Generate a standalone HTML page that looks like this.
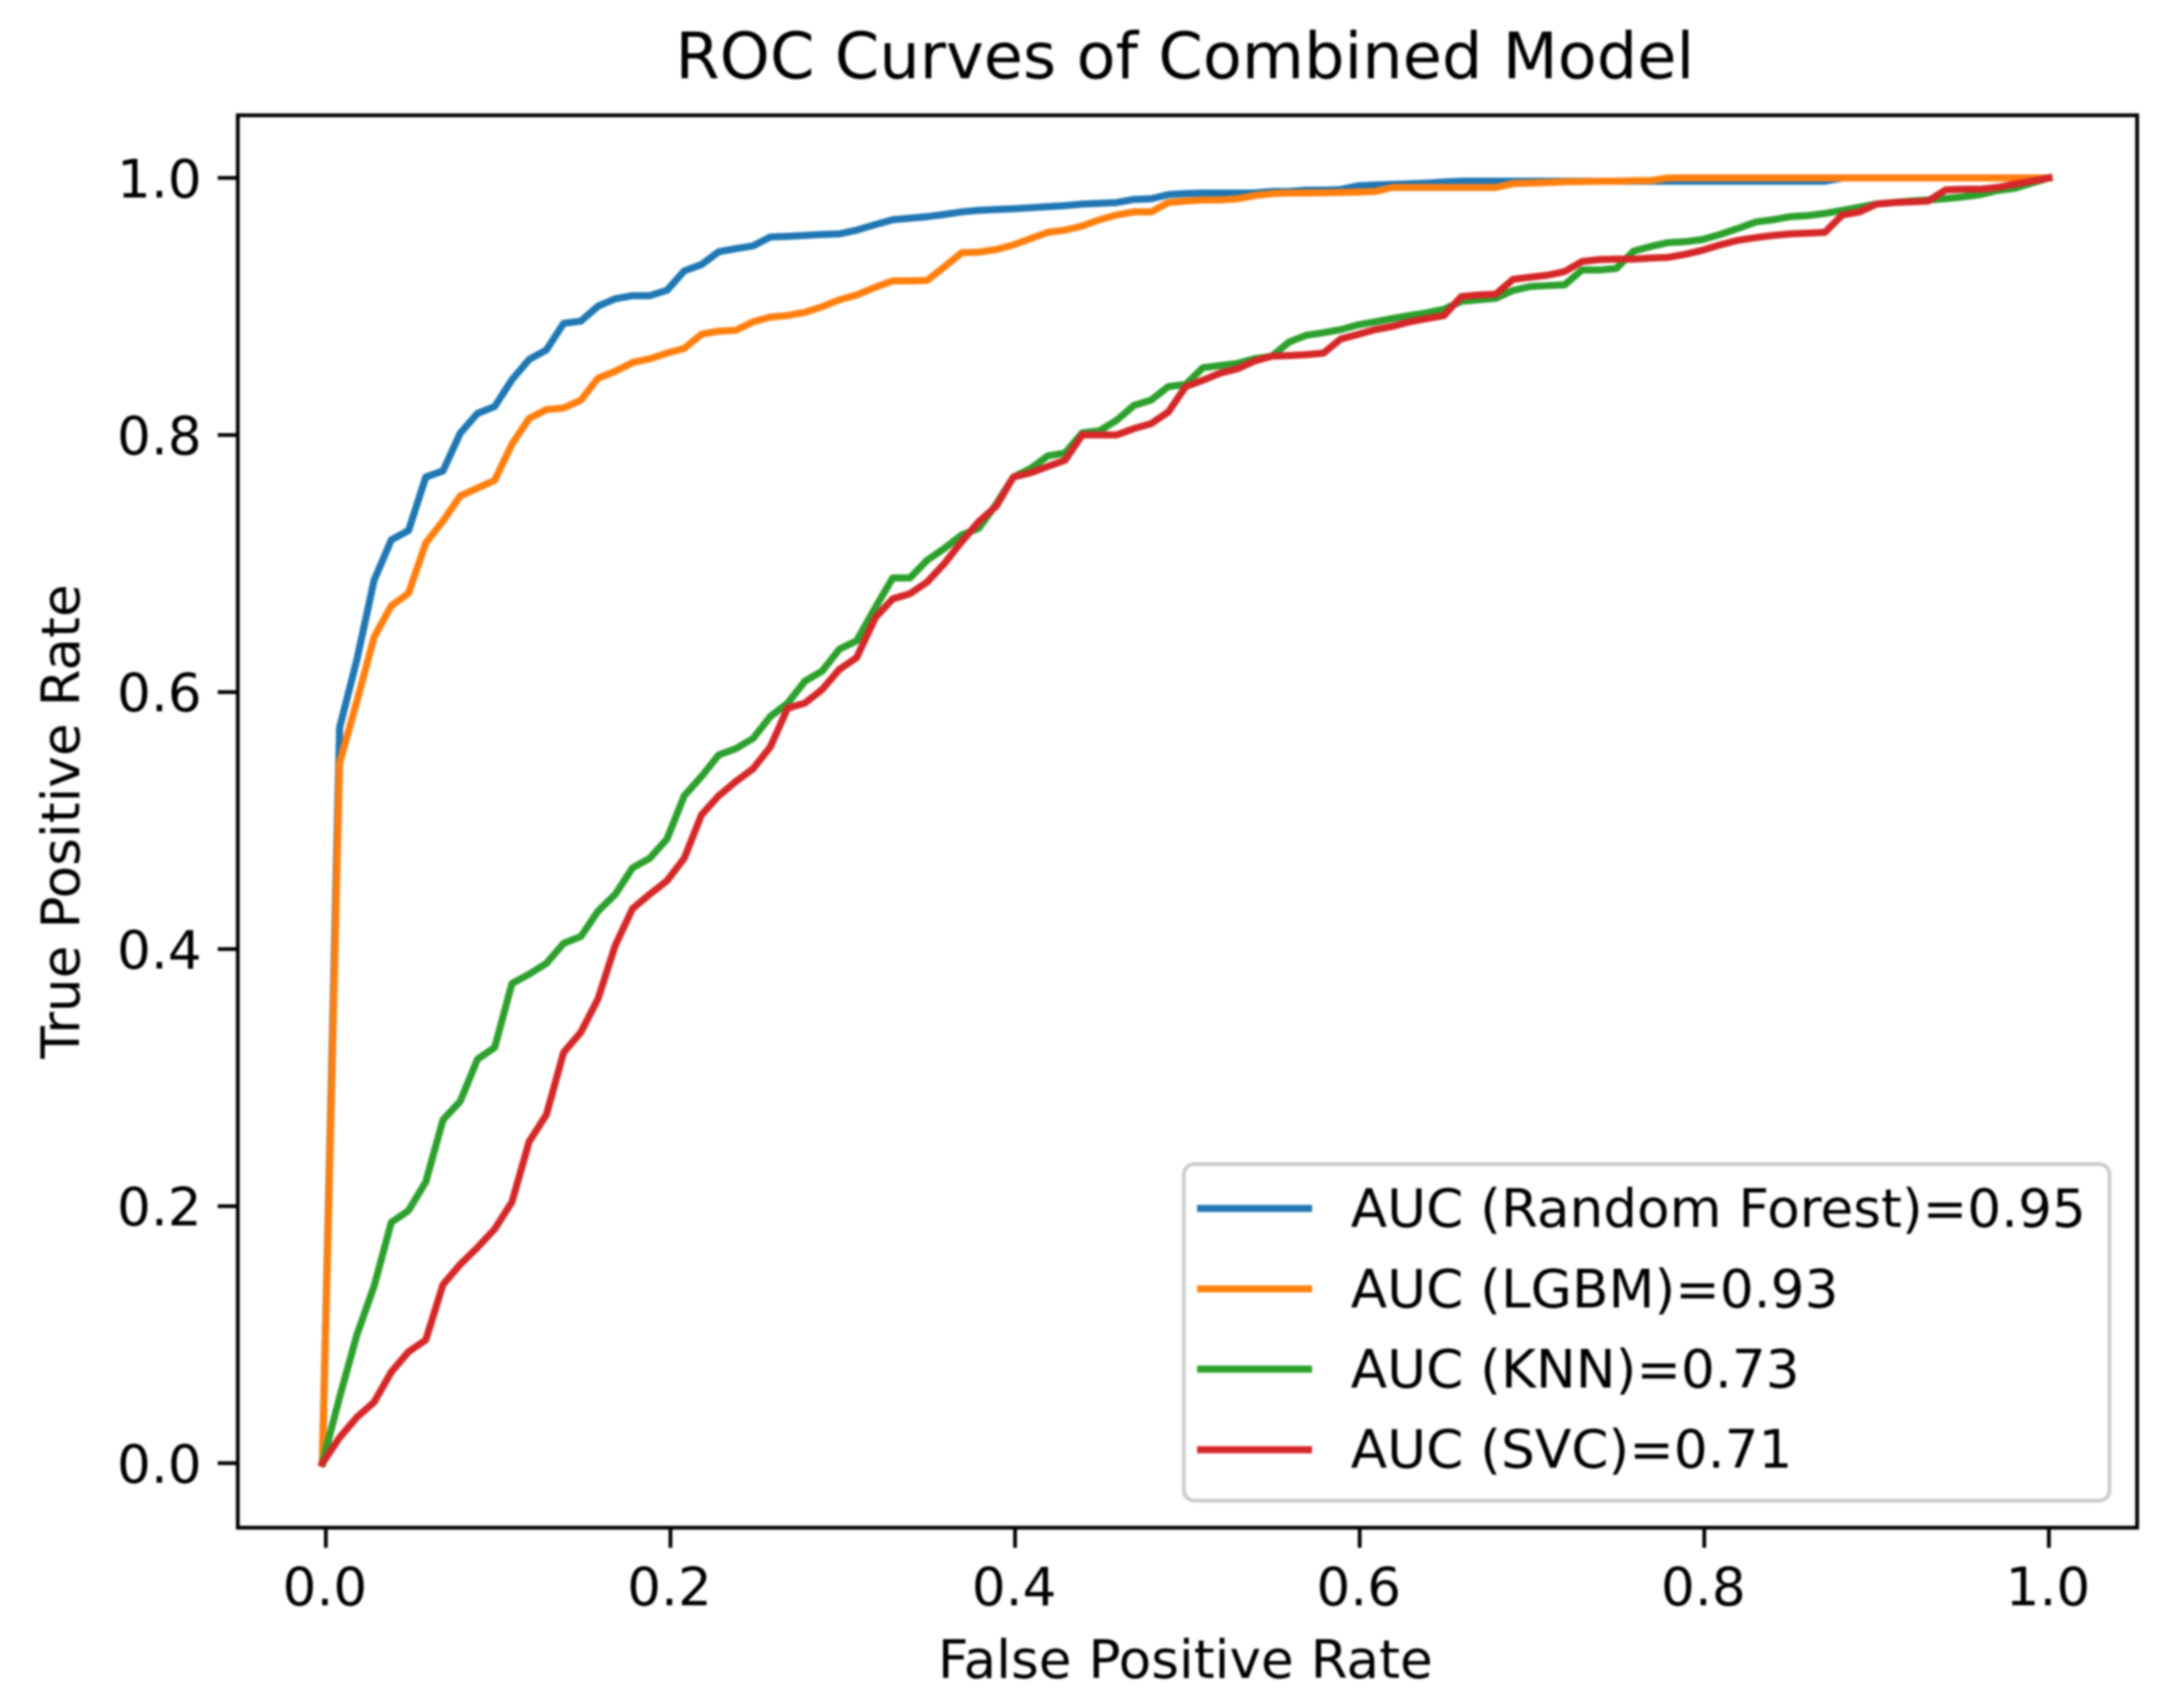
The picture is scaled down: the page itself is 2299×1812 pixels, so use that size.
<!DOCTYPE html>
<html lang="en">
<head>
<meta charset="utf-8">
<title>ROC Curves of Combined Model</title>
<style>
  html, body { margin: 0; padding: 0; background: #fff; }
  #chart { display: block; filter: blur(1px); }
  text { font-family: "DejaVu Sans", "Liberation Sans", sans-serif; fill: #000; }
</style>
</head>
<body>
<svg id="chart" xmlns="http://www.w3.org/2000/svg" width="2299" height="1812" viewBox="0 0 2299 1812">
  <rect x="0" y="0" width="2299" height="1812" fill="#fff"/>
  <text x="1257" y="83" font-size="67.7" text-anchor="middle">ROC Curves of Combined Model</text>
  <rect x="252.3" y="122.3" width="2015" height="1498.4" fill="#fff" stroke="#000" stroke-width="4"/>
  <g id="ticks"></g>
  <g id="curves"></g>
  <text x="1257.5" y="1780" font-size="56.5" text-anchor="middle">False Positive Rate</text>
  <text x="84" y="871.5" font-size="56.5" text-anchor="middle" transform="rotate(-90 84 871.5)">True Positive Rate</text>
  <g>
    <rect x="1256" y="1235" width="982" height="357" rx="11" ry="11" fill="#fff" fill-opacity="0.8" stroke="#ccc" stroke-width="4"/>
    <line x1="1270" x2="1392" y1="1282" y2="1282" stroke="#1f77b4" stroke-width="7.5"/>
    <text x="1433" y="1301.5" font-size="56.5">AUC (Random Forest)=0.95</text>
    <line x1="1270" x2="1392" y1="1367.4" y2="1367.4" stroke="#ff7f0e" stroke-width="7.5"/>
    <text x="1433" y="1387" font-size="56.5">AUC (LGBM)=0.93</text>
    <line x1="1270" x2="1392" y1="1452.5" y2="1452.5" stroke="#2ca02c" stroke-width="7.5"/>
    <text x="1433" y="1472" font-size="56.5">AUC (KNN)=0.73</text>
    <line x1="1270" x2="1392" y1="1538" y2="1538" stroke="#d62728" stroke-width="7.5"/>
    <text x="1433" y="1557" font-size="56.5">AUC (SVC)=0.71</text>
  </g>
</svg>
<script>
const xTickValues = [0.0, 0.2, 0.4, 0.6, 0.8, 1.0];
const yTickValues = [0.0, 0.2, 0.4, 0.6, 0.8, 1.0];
const fpr = [-0.002,0.008,0.018,0.028,0.038,0.048,0.058,0.068,0.078,0.088,
0.098,0.108,0.118,0.128,0.138,0.148,0.158,0.168,0.178,0.188,
0.198,0.208,0.218,0.228,0.238,0.248,0.258,0.268,0.278,0.288,
0.298,0.308,0.319,0.329,0.339,0.349,0.359,0.369,0.379,0.389,
0.399,0.409,0.419,0.429,0.439,0.449,0.459,0.469,0.479,0.489,
0.499,0.509,0.519,0.529,0.539,0.549,0.559,0.569,0.579,0.589,
0.599,0.609,0.619,0.629,0.639,0.649,0.659,0.669,0.679,0.689,
0.699,0.709,0.719,0.729,0.739,0.749,0.759,0.769,0.779,0.789,
0.799,0.809,0.820,0.830,0.840,0.850,0.860,0.870,0.880,0.890,
0.900,0.910,0.920,0.930,0.940,0.950,0.960,0.970,0.980,0.990,1.000];
const tprRandomForest = [0,.5725,.6251,.6870,.7184,.7257,.7673,.7721,.8014,.8168,
.8222,.8430,.8588,.8662,.8869,.8886,.9003,.9060,.9084,.9084,
.9126,.9277,.9326,.9426,.9450,.9472,.9541,.9546,.9553,.9560,
.9565,.9594,.9638,.9675,.9687,.9699,.9716,.9736,.9748,.9755,
.9760,.9768,.9777,.9785,.9797,.9802,.9809,.9833,.9838,.9870,
.9878,.9883,.9883,.9883,.9883,.9895,.9895,.9905,.9905,.9910,
.9939,.9945,.9950,.9955,.9960,.9968,.9975,.9975,.9975,.9975,
.9975,.9975,.9975,.9975,.9975,.9975,.9975,.9975,.9975,.9975,
.9975,.9975,.9975,.9975,.9975,.9975,.9975,.9975,1,1,
1,1,1,1,1,1,1,1,1,1,1];
const tprLgbm = [0,.5450,.5927,.6427,.6671,.6769,.7160,.7331,.7526,.7587,
.7648,.7929,.8129,.8198,.8210,.8271,.8442,.8496,.8564,.8593,
.8637,.8674,.8784,.8808,.8815,.8881,.8918,.8930,.8955,.8998,
.9052,.9089,.9150,.9199,.9199,.9203,.9309,.9418,.9423,.9443,
.9479,.9528,.9577,.9594,.9626,.9675,.9712,.9736,.9736,.9809,
.9821,.9829,.9829,.9838,.9863,.9878,.9883,.9883,.9885,.9888,
.9890,.9895,.9926,.9926,.9926,.9926,.9926,.9926,.9926,.9956,
.9960,.9965,.9970,.9972,.9975,.9975,.9978,.9980,1,1,
1,1,1,1,1,1,1,1,1,1,
1,1,1,1,1,1,1,1,1,1,1];
const tprKnn = [0,.0514,.0998,.1377,.1874,.1966,.2189,.2672,.2816,.3143,
.3235,.3732,.3805,.3889,.4045,.4098,.4296,.4427,.4632,.4707,
.4857,.5193,.5343,.5511,.5560,.5640,.5810,.5914,.6084,.6163,
.6333,.6398,.6660,.6888,.6888,.7026,.7118,.7222,.7275,.7461,
.7673,.7739,.7837,.7860,.8017,.8033,.8115,.8230,.8272,.8377,
.8393,.8524,.8540,.8557,.8593,.8613,.8723,.8776,.8796,.8820,
.8857,.8881,.8906,.8930,.8950,.8979,.9040,.9052,.9064,.9125,
.9155,.9162,.9169,.9284,.9284,.9296,.9431,.9467,.9497,.9504,
.9521,.9560,.9609,.9658,.9675,.9699,.9707,.9724,.9748,.9773,
.9797,.9809,.9821,.9829,.9839,.9853,.9870,.9902,.9919,.9961,1];
const tprSvc = [0,.0200,.0357,.0475,.0710,.0867,.0959,.1390,.1547,.1678,
.1822,.2032,.2502,.2712,.3196,.3353,.3614,.4030,.4315,.4427,
.4532,.4707,.5044,.5193,.5305,.5404,.5574,.5875,.5914,.6019,
.6176,.6267,.6581,.6725,.6765,.6856,.7000,.7170,.7327,.7445,
.7673,.7706,.7755,.7804,.8001,.8001,.8001,.8050,.8089,.8180,
.8377,.8426,.8481,.8515,.8576,.8613,.8618,.8625,.8637,.8747,
.8783,.8820,.8845,.8881,.8906,.8930,.9077,.9089,.9096,.9211,
.9228,.9243,.9272,.9350,.9365,.9369,.9369,.9377,.9382,.9406,
.9438,.9479,.9516,.9536,.9553,.9565,.9570,.9577,.9711,.9736,
.9797,.9809,.9814,.9821,.9907,.9912,.9912,.9926,.9951,.9975,1];

const SVG_NS = 'http://www.w3.org/2000/svg';
function xScale(v) { return 345.7 + v * 1828; }
function yScale(v) { return 1552.3 - v * 1363.5; }

const tickGroup = document.getElementById('ticks');
const curveGroup = document.getElementById('curves');

xTickValues.forEach(function (v) {
  const tick = document.createElementNS(SVG_NS, 'line');
  
  
  tick.setAttribute('x1', xScale(v));
  tick.setAttribute('x2', xScale(v));
  tick.setAttribute('y1', 1620.7);
  tick.setAttribute('y2', 1642);
  tick.setAttribute('stroke', '#000');
  tick.setAttribute('stroke-width', 4);
  tickGroup.appendChild(tick);
  const label = document.createElementNS(SVG_NS, 'text');
  
  
  label.setAttribute('x', xScale(v) - 1);
  label.setAttribute('y', 1703);
  label.setAttribute('font-size', 56.5);
  label.setAttribute('text-anchor', 'middle');
  label.textContent = v.toFixed(1);
  tickGroup.appendChild(label);
});

yTickValues.forEach(function (v) {
  const tick = document.createElementNS(SVG_NS, 'line');
  
  
  tick.setAttribute('x1', 231);
  tick.setAttribute('x2', 252.3);
  tick.setAttribute('y1', yScale(v));
  tick.setAttribute('y2', yScale(v));
  tick.setAttribute('stroke', '#000');
  tick.setAttribute('stroke-width', 4);
  tickGroup.appendChild(tick);
  const label = document.createElementNS(SVG_NS, 'text');
  
  
  label.setAttribute('x', 214);
  label.setAttribute('y', yScale(v) + 20.5);
  label.setAttribute('font-size', 56.5);
  label.setAttribute('text-anchor', 'end');
  label.textContent = v.toFixed(1);
  tickGroup.appendChild(label);
});

function drawCurve(values, color, name) {
  const line = document.createElementNS(SVG_NS, 'polyline');
  
  
  line.setAttribute('points', values.map(function (v, i) {
    return xScale(fpr[i]).toFixed(2) + ',' + yScale(v).toFixed(2);
  }).join(' '));
  line.setAttribute('fill', 'none');
  line.setAttribute('stroke', color);
  line.setAttribute('stroke-width', 7.5);
  line.setAttribute('stroke-linejoin', 'round');
  line.setAttribute('stroke-linecap', 'square');
  curveGroup.appendChild(line);
}

drawCurve(tprRandomForest, '#1f77b4', 'curve-random-forest');
drawCurve(tprLgbm, '#ff7f0e', 'curve-lgbm');
drawCurve(tprKnn, '#2ca02c', 'curve-knn');
drawCurve(tprSvc, '#d62728', 'curve-svc');
</script>
</body>
</html>
